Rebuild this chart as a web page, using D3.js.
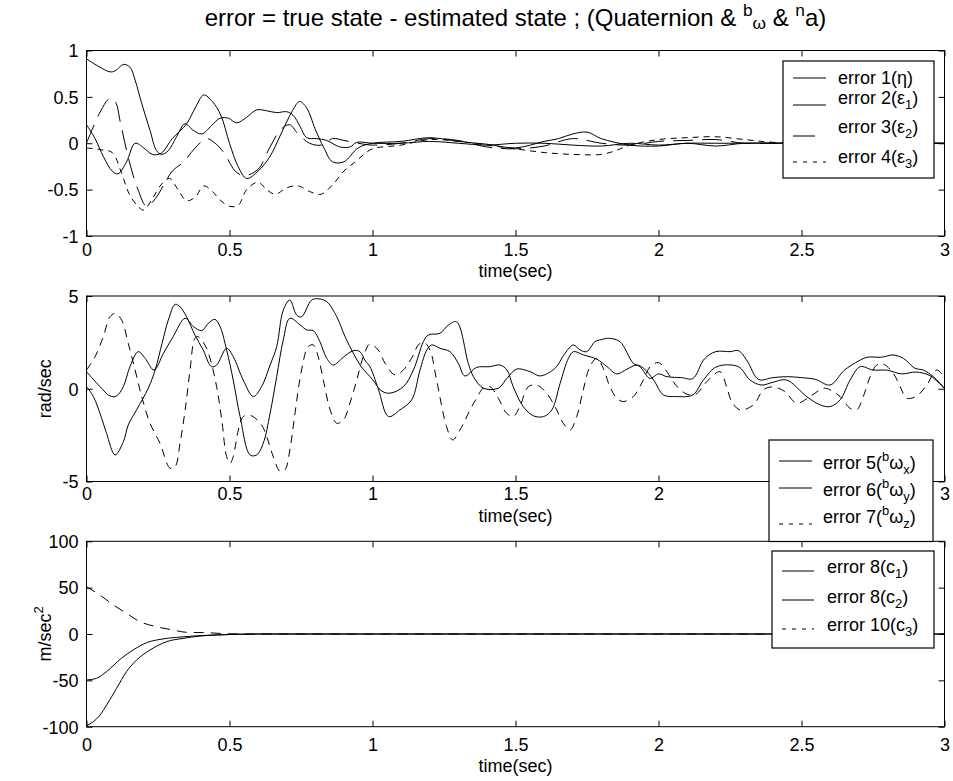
<!DOCTYPE html>
<html><head><meta charset="utf-8">
<script src="https://cdn.jsdelivr.net/npm/d3@7"></script>
<style>body{margin:0;background:#fff}</style></head>
<body><svg id="c" width="953" height="781"></svg>
<script>
// ---------------- DATA ----------------
const xTicks = [0, 0.5, 1, 1.5, 2, 2.5, 3];
const yTicksTop = [-1, -0.5, 0, 0.5, 1];
const yTicksMid = [-5, 0, 5];
const yTicksBot = [-100, -50, 0, 50, 100];

// top panel: quaternion errors [time, value]
const err1 = [[0,0.91],[0.047,0.82],[0.082,0.77],[0.1,0.78],[0.129,0.85],[0.152,0.82],[0.17,0.68],[0.193,0.43],[0.222,0.14],[0.245,-0.08],[0.263,-0.12],[0.286,-0.08],[0.315,0.07],[0.344,0.21],[0.373,0.14],[0.403,0.10],[0.437,0.19],[0.467,0.27],[0.496,0.27],[0.525,0.22],[0.56,0.28],[0.595,0.36],[0.63,0.35],[0.665,0.33],[0.70,0.34],[0.723,0.30],[0.747,0.18],[0.77,0.06],[0.805,0.05],[0.84,0.03],[0.886,-0.04],[0.921,-0.04],[0.945,0.01],[1.0,0.0],[1.1,0.0],[1.2,0.02],[1.3,0.0],[1.4,-0.02],[1.5,0.0],[1.6,0.0],[1.7,-0.02],[1.8,-0.03],[1.9,0.0],[2.0,-0.02],[2.1,0.0],[2.2,0.0],[2.4,0.0],[2.6,0.0],[2.8,0.0],[3.0,0.0]];
const err2 = [[0,0.2],[0.03,0.05],[0.06,-0.15],[0.09,-0.3],[0.11,-0.33],[0.14,-0.2],[0.17,0.0],[0.2,-0.05],[0.23,-0.12],[0.26,-0.11],[0.3,0.05],[0.35,0.21],[0.38,0.38],[0.41,0.52],[0.44,0.45],[0.47,0.3],[0.5,0.0],[0.53,-0.25],[0.56,-0.38],[0.6,-0.3],[0.64,-0.15],[0.68,0.1],[0.72,0.35],[0.745,0.45],[0.77,0.38],[0.8,0.15],[0.83,-0.05],[0.86,-0.2],[0.9,-0.2],[0.95,-0.05],[1.0,0.0],[1.1,0.02],[1.2,0.06],[1.3,0.02],[1.4,-0.01],[1.5,-0.05],[1.6,0.02],[1.65,0.05],[1.7,0.1],[1.75,0.12],[1.8,0.05],[1.9,-0.02],[2.0,-0.03],[2.1,0.0],[2.2,-0.03],[2.3,0.0],[2.5,0.0],[3.0,0.0]];
const err3 = [[0,0.0],[0.02,0.15],[0.05,0.35],[0.08,0.48],[0.1,0.45],[0.12,0.2],[0.15,-0.2],[0.18,-0.5],[0.21,-0.68],[0.24,-0.6],[0.27,-0.45],[0.3,-0.3],[0.34,-0.2],[0.38,-0.05],[0.42,0.05],[0.45,0.0],[0.48,-0.1],[0.52,-0.3],[0.55,-0.35],[0.6,-0.28],[0.64,-0.05],[0.68,0.15],[0.71,0.2],[0.74,0.1],[0.78,0.0],[0.82,-0.02],[0.86,0.05],[0.9,0.03],[0.95,0.0],[1.0,-0.02],[1.1,0.0],[1.2,0.05],[1.3,0.03],[1.4,-0.04],[1.5,-0.06],[1.6,-0.03],[1.7,0.05],[1.8,0.0],[1.9,-0.02],[2.0,0.02],[2.1,0.03],[2.2,0.04],[2.3,0.0],[2.4,0.0],[3.0,0.0]];
const err4 = [[0,-0.05],[0.05,-0.07],[0.09,-0.1],[0.12,-0.3],[0.15,-0.55],[0.18,-0.68],[0.2,-0.72],[0.23,-0.6],[0.26,-0.45],[0.29,-0.38],[0.32,-0.5],[0.35,-0.62],[0.38,-0.58],[0.41,-0.46],[0.44,-0.52],[0.47,-0.62],[0.5,-0.68],[0.53,-0.67],[0.56,-0.5],[0.6,-0.42],[0.63,-0.5],[0.66,-0.55],[0.7,-0.48],[0.74,-0.46],[0.78,-0.52],[0.82,-0.55],[0.86,-0.45],[0.9,-0.3],[0.94,-0.2],[0.97,-0.12],[1.0,-0.06],[1.1,-0.02],[1.2,0.04],[1.3,0.02],[1.4,-0.02],[1.5,-0.06],[1.6,-0.1],[1.7,-0.12],[1.8,-0.12],[1.85,-0.08],[1.9,-0.02],[2.0,0.04],[2.1,0.06],[2.2,0.07],[2.3,0.04],[2.4,0.01],[2.5,0.0],[3.0,0.0]];

// middle panel: gyro bias errors (rad/sec)
const err5 = [[0,0.92],[0.047,0.12],[0.082,-0.39],[0.105,-0.39],[0.129,0.12],[0.152,1.19],[0.181,2.0],[0.205,1.64],[0.236,1.01],[0.269,1.91],[0.303,2.81],[0.345,3.8],[0.374,3.35],[0.403,3.13],[0.426,3.53],[0.449,3.74],[0.467,3.35],[0.49,2.09],[0.513,0.47],[0.537,-1.5],[0.572,-3.57],[0.595,-3.57],[0.618,-2.94],[0.642,-1.32],[0.665,0.65],[0.688,2.63],[0.711,3.8],[0.747,3.44],[0.77,3.17],[0.793,3.13],[0.816,2.54],[0.84,1.64],[0.863,1.28],[0.898,1.7],[0.933,2.05],[0.956,2.0],[0.975,1.5],[0.991,1.19],[1.02,0.0],[1.056,-1.5],[1.096,-1.14],[1.137,-0.6],[1.166,1.01],[1.19,2.09],[1.207,2.36],[1.236,2.18],[1.271,2.0],[1.3,1.37],[1.323,0.69],[1.364,1.15],[1.41,1.19],[1.446,1.28],[1.47,1.01],[1.492,0.11],[1.527,-0.96],[1.563,-1.46],[1.598,-1.5],[1.627,-1.14],[1.656,0.29],[1.685,1.64],[1.703,2.0],[1.738,1.82],[1.785,1.59],[1.82,1.19],[1.854,0.8],[1.889,1.05],[1.924,1.28],[1.948,1.1],[1.983,0.47],[2.017,-0.33],[2.06,-0.42],[2.12,-0.33],[2.157,0.47],[2.204,1.19],[2.279,1.19],[2.32,0.47],[2.36,0.2],[2.4,0.35],[2.448,0.47],[2.518,-0.42],[2.565,-0.87],[2.6,-0.96],[2.635,-0.6],[2.67,0.47],[2.705,1.19],[2.75,1.01],[2.8,1.0],[2.85,0.8],[2.9,0.9],[2.95,0.7],[3.0,0.0]];
const err6 = [[0,0.12],[0.024,-0.42],[0.053,-1.59],[0.07,-2.4],[0.1,-3.57],[0.129,-2.85],[0.146,-1.95],[0.175,-1.14],[0.216,0.03],[0.24,1.01],[0.265,2.5],[0.286,3.7],[0.31,4.55],[0.327,4.42],[0.35,3.88],[0.379,2.9],[0.408,2.09],[0.437,1.19],[0.455,1.28],[0.49,2.18],[0.513,1.73],[0.548,0.47],[0.583,-0.42],[0.612,0.11],[0.642,1.28],[0.665,2.27],[0.688,4.24],[0.711,4.78],[0.735,3.97],[0.752,3.88],[0.787,4.78],[0.81,4.85],[0.84,4.7],[0.875,3.88],[0.904,2.81],[0.933,1.91],[0.96,1.2],[1.0,0.5],[1.03,-0.1],[1.06,-0.24],[1.108,0.11],[1.143,1.01],[1.178,2.54],[1.195,2.9],[1.236,2.99],[1.265,3.43],[1.294,3.61],[1.335,1.37],[1.353,0.65],[1.388,0.03],[1.44,0.03],[1.47,0.56],[1.504,1.06],[1.551,0.92],[1.586,0.69],[1.638,1.1],[1.673,1.91],[1.702,2.36],[1.726,2.09],[1.749,2.0],[1.778,2.54],[1.8,2.65],[1.825,2.72],[1.865,2.54],[1.912,1.37],[1.935,1.19],[1.97,0.56],[2.0,0.8],[2.03,0.65],[2.08,0.6],[2.12,0.55],[2.16,1.6],[2.2,2.0],[2.25,2.0],[2.28,2.05],[2.31,1.5],[2.35,0.5],[2.4,0.6],[2.45,0.65],[2.5,0.6],[2.55,0.5],[2.6,0.2],[2.65,1.0],[2.7,1.5],[2.73,1.7],[2.78,1.7],[2.82,1.82],[2.856,1.64],[2.897,1.1],[2.926,1.01],[2.961,0.65],[3.0,0.03]];
const err7 = [[0,1.01],[0.03,1.73],[0.059,2.81],[0.082,3.88],[0.1,4.06],[0.123,3.7],[0.146,2.45],[0.17,1.01],[0.193,-0.42],[0.222,-1.86],[0.257,-2.94],[0.292,-4.28],[0.31,-4.19],[0.327,-2.94],[0.345,-1.14],[0.362,1.01],[0.379,2.72],[0.39,2.81],[0.414,2.36],[0.432,1.64],[0.455,0.11],[0.473,-1.68],[0.49,-3.66],[0.502,-4.02],[0.513,-3.66],[0.531,-2.22],[0.548,-1.5],[0.575,-1.45],[0.612,-1.95],[0.63,-2.58],[0.653,-3.66],[0.677,-4.46],[0.694,-4.37],[0.711,-3.3],[0.729,-1.32],[0.752,1.01],[0.775,2.27],[0.793,2.36],[0.81,1.73],[0.828,0.47],[0.852,-1.14],[0.875,-1.86],[0.898,-1.68],[0.921,-0.78],[0.945,0.47],[0.968,1.73],[0.991,2.41],[1.02,2.09],[1.044,1.37],[1.079,0.74],[1.108,1.01],[1.143,1.82],[1.16,2.36],[1.18,2.5],[1.201,2.09],[1.224,0.47],[1.259,-2.04],[1.28,-2.76],[1.306,-2.22],[1.341,-1.14],[1.364,-0.51],[1.387,0.03],[1.411,0.11],[1.44,-0.51],[1.469,-1.32],[1.492,-1.5],[1.515,-0.96],[1.545,0.11],[1.574,0.2],[1.609,-0.24],[1.644,-1.14],[1.667,-1.86],[1.691,-2.22],[1.714,-1.5],[1.737,-0.06],[1.76,1.19],[1.784,1.64],[1.807,1.1],[1.83,0.11],[1.854,-0.51],[1.877,-0.69],[1.912,-0.42],[1.947,0.47],[1.971,1.19],[2.0,1.41],[2.03,0.9],[2.06,0.2],[2.1,-0.3],[2.13,-0.3],[2.17,0.4],[2.215,0.92],[2.238,0.11],[2.256,-0.69],[2.285,-1.14],[2.332,-0.87],[2.367,-0.06],[2.4,0.1],[2.442,-0.15],[2.483,-0.78],[2.53,-0.42],[2.577,0.03],[2.6,-0.06],[2.635,-0.42],[2.67,-1.05],[2.693,-1.14],[2.716,-0.42],[2.74,0.65],[2.763,1.28],[2.786,1.33],[2.821,0.83],[2.845,0.11],[2.868,-0.51],[2.903,-0.39],[2.938,0.2],[2.973,1.01],[3.0,0.6]];

// bottom panel: accelerometer errors (m/sec^2)
const errC1 = [[0,-99],[0.024,-94.5],[0.047,-87.6],[0.07,-76.8],[0.105,-58.7],[0.14,-40.6],[0.175,-28.1],[0.222,-17.3],[0.28,-8.3],[0.338,-4.7],[0.397,-2.2],[0.455,-1.1],[0.514,-0.4],[0.6,0],[1,0],[2,0],[3,0]];
const errC2 = [[0,-49.6],[0.035,-47.8],[0.07,-40.6],[0.122,-26.2],[0.163,-17.3],[0.21,-9.4],[0.257,-5.8],[0.315,-3.6],[0.373,-2.2],[0.443,-1.1],[0.52,-0.3],[0.6,0],[1,0],[2,0],[3,0]];
const errC3 = [[0,51],[0.047,42],[0.094,31.3],[0.14,22.3],[0.187,13.3],[0.245,7.9],[0.303,4.3],[0.35,1.8],[0.42,1.4],[0.49,0.3],[0.56,0],[1,0],[2,0],[3,0]];

// text
const titleParts = [{t:"error = true state - estimated state ; (Quaternion & "},{t:"b",sup:1},{t:"ω",small:1},{t:" & "},{t:"n",sup:1},{t:"a)"}];
const xLabel = "time(sec)";
const legendTopLabels = [
  [{t:"error 1("},{t:"η"},{t:")"}],
  [{t:"error 2("},{t:"ε"},{t:"1",sub:1},{t:")"}],
  [{t:"error 3("},{t:"ε"},{t:"2",sub:1},{t:")"}],
  [{t:"error 4("},{t:"ε"},{t:"3",sub:1},{t:")"}]
];
const legendMidLabels = [
  [{t:"error 5("},{t:"b",sup:1},{t:"ω"},{t:"x",sub:1},{t:")"}],
  [{t:"error 6("},{t:"b",sup:1},{t:"ω"},{t:"y",sub:1},{t:")"}],
  [{t:"error 7("},{t:"b",sup:1},{t:"ω"},{t:"z",sub:1},{t:")"}]
];
const legendBotLabels = [
  [{t:"error 8(c"},{t:"1",sub:1},{t:")"}],
  [{t:"error 8(c"},{t:"2",sub:1},{t:")"}],
  [{t:"error 10(c"},{t:"3",sub:1},{t:")"}]
];

// ---------------- DRAW ----------------
const FONT = "'Liberation Sans', Arial, Helvetica, sans-serif";
const FS = 18;
const svg = d3.select("#c");
svg.append("rect").attr("width",953).attr("height",781).attr("fill","#fff");

function rich(textSel, parts, fs) {
  let shift = 0;
  parts.forEach(p => {
    const target = p.sup ? -0.42*fs : p.sub ? 0.3*fs : p.small ? 0.12*fs : 0;
    const ts = textSel.append("tspan").attr("dy", target - shift).text(p.t);
    if (p.sup || p.sub || p.small) ts.attr("font-size", fs*0.72);
    shift = target;
  });
}

const x = d3.scaleLinear().domain([0,3]).range([86.5,944.5]);
const L = 86.5, R = 944.5;

const panels = [
  {yr:[236,50.5], dom:[-1,1], ticks:yTicksTop, tickY:250, labY:271,
   series:[{d:err1},{d:err2},{d:err3,dash:"20,9"},{d:err4,dash:"6,5"}], ylab:null},
  {yr:[481.5,296], dom:[-5,5], ticks:yTicksMid, tickY:494, labY:516,
   series:[{d:err5},{d:err6},{d:err7,dash:"8,6"}], ylab:[{t:"rad/sec"}]},
  {yr:[726.7,541.3], dom:[-100,100], ticks:yTicksBot, tickY:745, labY:766,
   series:[{d:errC1},{d:errC2},{d:errC3,dash:"10,7"}], ylab:[{t:"m/sec"},{t:"2",sup:1}], mono:true}
];

panels.forEach((p,i) => {
  const y = d3.scaleLinear().domain(p.dom).range(p.yr);
  const top = p.yr[1], bot = p.yr[0];
  svg.append("clipPath").attr("id","clip"+i).append("rect")
    .attr("x",L).attr("y",top).attr("width",R-L).attr("height",bot-top);
  const line = d3.line().x(d=>x(d[0])).y(d=>y(d[1]))
    .curve(p.mono ? d3.curveMonotoneX : d3.curveCatmullRom.alpha(0.5));
  const g = svg.append("g").attr("clip-path",`url(#clip${i})`);
  p.series.forEach(s => {
    g.append("path").datum(s.d).attr("d",line).attr("fill","none")
      .attr("stroke","#000").attr("stroke-width",1)
      .attr("stroke-dasharray", s.dash || null);
  });
  svg.append("rect").attr("x",L).attr("y",top).attr("width",R-L).attr("height",bot-top)
    .attr("fill","none").attr("stroke","#000").attr("stroke-width",1);
  const ax = svg.append("g").attr("transform",`translate(0,${bot})`)
    .call(d3.axisBottom(x).tickValues(xTicks).tickSizeInner(-6).tickSizeOuter(0).tickFormat(d=>String(d)));
  ax.select(".domain").remove();
  ax.attr("font-family",FONT).attr("font-size",FS);
  ax.selectAll("text").attr("y", p.tickY - bot).attr("dy","0.35em");
  const axT = svg.append("g").attr("transform",`translate(0,${top})`)
    .call(d3.axisTop(x).tickValues(xTicks).tickSizeInner(-6).tickSizeOuter(0).tickFormat(""));
  axT.select(".domain").remove();
  const axL = svg.append("g").attr("transform",`translate(${L},0)`)
    .call(d3.axisLeft(y).tickValues(p.ticks).tickSizeInner(-6).tickSizeOuter(0).tickPadding(8).tickFormat(d=>String(d)));
  axL.select(".domain").remove();
  axL.attr("font-family",FONT).attr("font-size",FS);
  axL.selectAll("text").attr("dy","0.35em");
  const axR = svg.append("g").attr("transform",`translate(${R},0)`)
    .call(d3.axisRight(y).tickValues(p.ticks).tickSizeInner(-6).tickSizeOuter(0).tickFormat(""));
  axR.select(".domain").remove();
  svg.append("text").attr("x",(L+R)/2).attr("y",p.labY).attr("dy","0.35em")
    .attr("text-anchor","middle").attr("font-family",FONT).attr("font-size",FS).text(xLabel);
  if (p.ylab) {
    const cy = (top+bot)/2;
    const t = svg.append("text").attr("transform",`translate(51,${cy}) rotate(-90)`)
      .attr("text-anchor","middle").attr("font-family",FONT).attr("font-size",FS);
    rich(t, p.ylab, FS);
  }
});

// title
const tt = svg.append("text").attr("x",(L+R)/2).attr("y",26).attr("text-anchor","middle")
  .attr("font-family",FONT).attr("font-size",24);
rich(tt, titleParts, 24);

// legends
function legend(box, lx0, lx1, tx, rows, labels, styles) {
  svg.append("rect").attr("x",box[0]).attr("y",box[1]).attr("width",box[2]-box[0]).attr("height",box[3]-box[1])
    .attr("fill","#fff").attr("stroke","#000").attr("stroke-width",1.2);
  labels.forEach((lab,k) => {
    const st = styles[k];
    svg.append("line").attr("x1",lx0).attr("x2",st.len ? lx0+st.len : lx1)
      .attr("y1",rows[k][1]).attr("y2",rows[k][1])
      .attr("stroke","#000").attr("stroke-width",1).attr("stroke-dasharray",st.dash||null);
    const t = svg.append("text").attr("x",tx).attr("y",rows[k][0]+6)
      .attr("font-family",FONT).attr("font-size",FS);
    rich(t, lab, FS);
  });
}
legend([783,61,934,178], 793, 826, 838, [[78,78],[98,105],[127,136],[157,162]], legendTopLabels,
  [{},{},{len:22},{dash:"4,6"}]);
legend([769,440,933,541.5], 779, 812, 823, [[463,461],[490,488],[517,524]], legendMidLabels,
  [{},{},{dash:"4,6"}]);
legend([772,551,934,648], 782, 814, 827, [[567,571],[597,600],[625,629]], legendBotLabels,
  [{},{},{dash:"4,6"}]);
</script></body></html>
